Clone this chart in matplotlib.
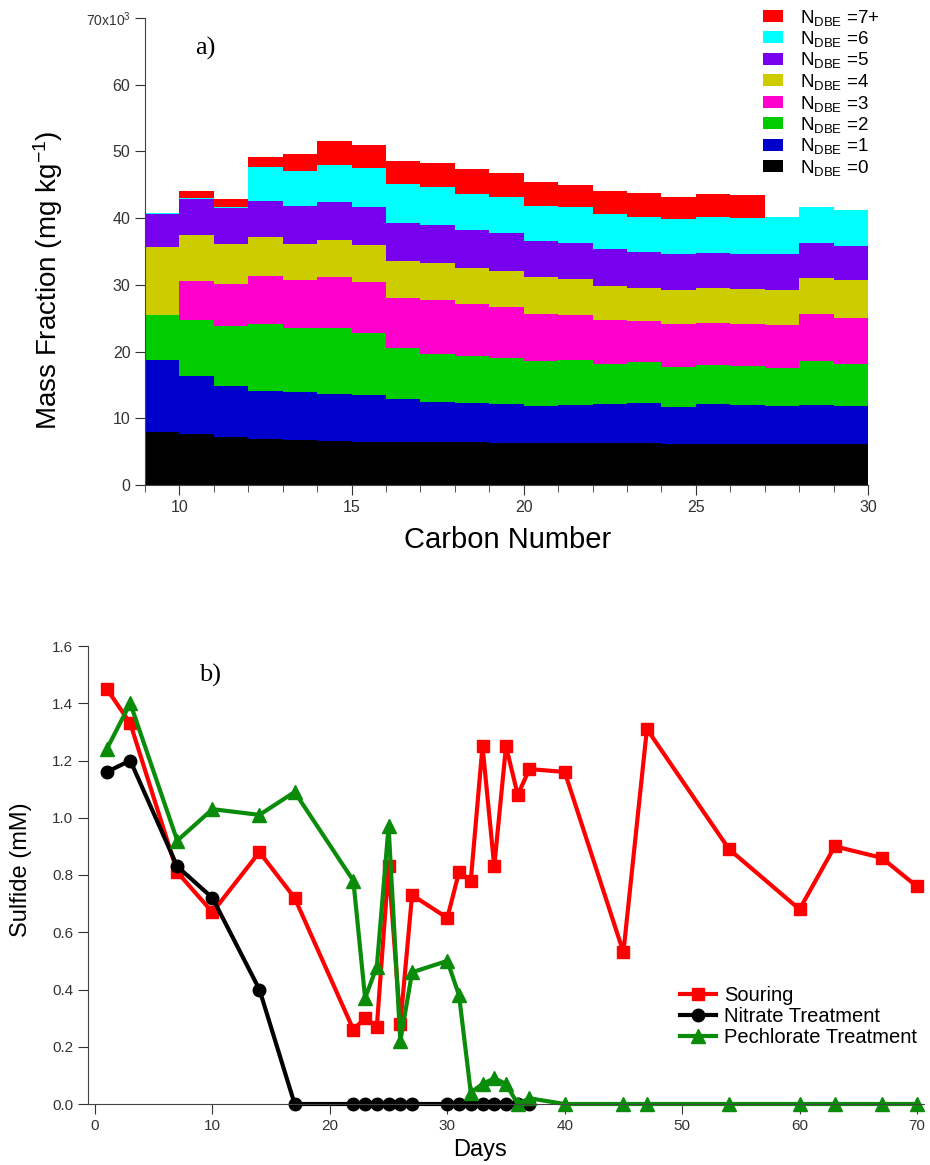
import matplotlib
matplotlib.use('Agg')
import matplotlib.pyplot as plt
from matplotlib.patches import Patch
from matplotlib.ticker import MultipleLocator

plt.rcParams['font.family'] = ['Liberation Sans', 'DejaVu Sans']
plt.rcParams['mathtext.default'] = 'regular'

# ----- a) mass fraction by carbon number (x10^3 mg/kg) -----
carbon = list(range(9, 30))
dbe0 = [8.0, 7.65, 7.25, 6.9, 6.7, 6.6, 6.5, 6.4, 6.4, 6.4, 6.3, 6.3, 6.3, 6.3, 6.3, 6.2, 6.2, 6.1, 6.1, 6.1, 6.1]
dbe1 = [10.7, 8.75, 7.6, 7.2, 7.2, 7.0, 7.0, 6.45, 6.1, 5.95, 5.8, 5.6, 5.7, 5.8, 5.95, 5.5, 5.9, 5.85, 5.7, 5.85, 5.7]
dbe2 = [6.8, 8.4, 8.95, 10.1, 9.6, 9.9, 9.3, 7.75, 7.1, 6.95, 6.9, 6.7, 6.7, 6.1, 6.15, 6.0, 5.9, 5.95, 5.8, 6.65, 6.4]
dbe3 = [0, 5.8, 6.3, 7.2, 7.2, 7.7, 7.7, 7.5, 8.2, 7.9, 7.7, 7.1, 6.8, 6.5, 6.2, 6.4, 6.3, 6.3, 6.4, 7.0, 6.9]
dbe4 = [10.1, 6.9, 6.0, 5.7, 5.4, 5.5, 5.5, 5.5, 5.5, 5.3, 5.4, 5.5, 5.4, 5.2, 5.0, 5.1, 5.2, 5.2, 5.2, 5.4, 5.6]
dbe5 = [5.0, 5.3, 5.4, 5.5, 5.7, 5.7, 5.7, 5.6, 5.7, 5.7, 5.6, 5.4, 5.3, 5.5, 5.4, 5.4, 5.3, 5.3, 5.4, 5.3, 5.1]
dbe6 = [0.1, 0.2, 0.2, 5.0, 5.3, 5.6, 5.8, 5.9, 5.7, 5.4, 5.4, 5.2, 5.4, 5.2, 5.2, 5.3, 5.3, 5.3, 5.5, 5.4, 5.4]
dbe7 = [0, 1.0, 1.2, 1.6, 2.5, 3.5, 3.5, 3.5, 3.6, 3.7, 3.6, 3.6, 3.4, 3.5, 3.5, 3.3, 3.5, 3.5, 0, 0, 0]

layers = [dbe0, dbe1, dbe2, dbe3, dbe4, dbe5, dbe6, dbe7]
layer_names = ['0', '1', '2', '3', '4', '5', '6', '7+']
layer_colors = ['#000000', '#0000CC', '#00CC00', '#FF00CC', '#CCCC00', '#7700EE', '#00FFFF', '#FF0000']

# ----- b) sulfide vs days -----
souring_days = [1, 3, 7, 10, 14, 17, 22, 23, 24, 25, 26, 27, 30, 31, 32, 33, 34, 35, 36, 37, 40, 45, 47, 54, 60, 63, 67, 70]
souring = [1.45, 1.33, 0.81, 0.67, 0.88, 0.72, 0.26, 0.30, 0.27, 0.83, 0.28, 0.73, 0.65, 0.81, 0.78, 1.25, 0.83, 1.25,
           1.08, 1.17, 1.16, 0.53, 1.31, 0.89, 0.68, 0.90, 0.86, 0.76]
nitrate_days = [1, 3, 7, 10, 14, 17, 22, 23, 24, 25, 26, 27, 30, 31, 32, 33, 34, 35, 36, 37]
nitrate = [1.16, 1.20, 0.83, 0.72, 0.40, 0, 0, 0, 0, 0, 0, 0, 0, 0, 0, 0, 0, 0, 0, 0]
perch_days = [1, 3, 7, 10, 14, 17, 22, 23, 24, 25, 26, 27, 30, 31, 32, 33, 34, 35, 36, 37, 40, 45, 47, 54, 60, 63, 67, 70]
perch = [1.24, 1.40, 0.92, 1.03, 1.01, 1.09, 0.78, 0.37, 0.48, 0.97, 0.22, 0.46, 0.50, 0.38, 0.04, 0.07, 0.09, 0.07,
         0.0, 0.02, 0, 0, 0, 0, 0, 0, 0, 0]

W, H = 930, 1165
fig = plt.figure(figsize=(W / 100, H / 100), dpi=100)

# ---------------- top panel ----------------
ax1 = fig.add_axes([145 / W, 1 - 485 / H, (868 - 145) / W, (485 - 18) / H])
bottom = [0.0] * len(carbon)
for vals, name, col in zip(layers, layer_names, layer_colors):
    ax1.bar(carbon, [v * 1000 for v in vals], width=1.0, align='edge', bottom=bottom,
            color=col, linewidth=0, label=r'N$_{DBE}$ =' + name)
    bottom = [b + v * 1000 for b, v in zip(bottom, vals)]

ax1.set_xlim(9, 30)
ax1.set_ylim(0, 70000)
for s in ['top', 'right']:
    ax1.spines[s].set_visible(False)
for s in ['left', 'bottom']:
    ax1.spines[s].set_color('#444444')
ax1.xaxis.set_major_locator(MultipleLocator(5))
ax1.xaxis.set_minor_locator(MultipleLocator(1))
ax1.set_yticks(range(0, 70001, 10000))
ax1.set_yticklabels(['0', '10', '20', '30', '40', '50', '60', r'70x10$^{3}$'])
ax1.tick_params(axis='both', which='major', direction='out', length=7, labelsize=11.5, colors='#333333')
ax1.tick_params(axis='x', which='minor', direction='out', length=5, colors='#333333')
ax1.get_yticklabels()[-1].set_fontsize(10)

handles = [Patch(facecolor=c, edgecolor='none') for c in layer_colors][::-1]
labels = [r'N$_{DBE}$ =' + n for n in layer_names][::-1]
fig.legend(handles, labels, loc='upper left', bbox_to_anchor=(755 / W, 1 - 0 / H), frameon=False,
           fontsize=13.5, handlelength=1.1, handleheight=0.6, handletextpad=0.9, labelspacing=0.08,
           borderaxespad=0)

fig.text(48 / W, 1 - 280 / H, r'Mass Fraction (mg kg$^{-1}$)', rotation=90, ha='center', va='center', fontsize=20)
fig.text(508 / W, 1 - 540 / H, 'Carbon Number', ha='center', va='center', fontsize=21)
fig.text(205 / W, 1 - 48 / H, 'a)', ha='center', va='center', fontsize=19, family='Liberation Serif')

# ---------------- bottom panel ----------------
ax2 = fig.add_axes([88 / W, 1 - 1104 / H, (924 - 88) / W, (1104 - 646) / H])
ax2.plot(souring_days, souring, color='#FF0000', lw=3, marker='s', ms=9, label='Souring', clip_on=False)
ax2.plot(nitrate_days, nitrate, color='#000000', lw=3, marker='o', ms=9, label='Nitrate Treatment', clip_on=False)
ax2.plot(perch_days, perch, color='#0A8C0A', lw=3, marker='^', ms=10, label='Pechlorate Treatment', clip_on=False)

ax2.set_xlim(-0.6, 70.6)
ax2.set_ylim(0, 1.6)
for s in ['top', 'right']:
    ax2.spines[s].set_visible(False)
for s in ['left', 'bottom']:
    ax2.spines[s].set_color('#444444')
ax2.set_xticks(range(0, 71, 10))
ax2.set_yticks([0, 0.2, 0.4, 0.6, 0.8, 1.0, 1.2, 1.4, 1.6])
ax2.set_yticklabels(['0.0', '0.2', '0.4', '0.6', '0.8', '1.0', '1.2', '1.4', '1.6'])
ax2.tick_params(axis='both', direction='out', length=7, labelsize=11, colors='#333333')

ax2.legend(loc='upper left', bbox_to_anchor=(672 / W, 1 - 978 / H), bbox_transform=fig.transFigure,
           frameon=False, fontsize=14.5, handlelength=1.8, handletextpad=0.4, labelspacing=0.1,
           numpoints=1, borderaxespad=0)

fig.text(21 / W, 1 - 870 / H, 'Sulfide (mM)', rotation=90, ha='center', va='center', fontsize=17)
fig.text(480 / W, 1 - 1150 / H, 'Days', ha='center', va='center', fontsize=17)
fig.text(210 / W, 1 - 675 / H, 'b)', ha='center', va='center', fontsize=19, family='Liberation Serif')

fig.savefig('out.png', dpi=100)
